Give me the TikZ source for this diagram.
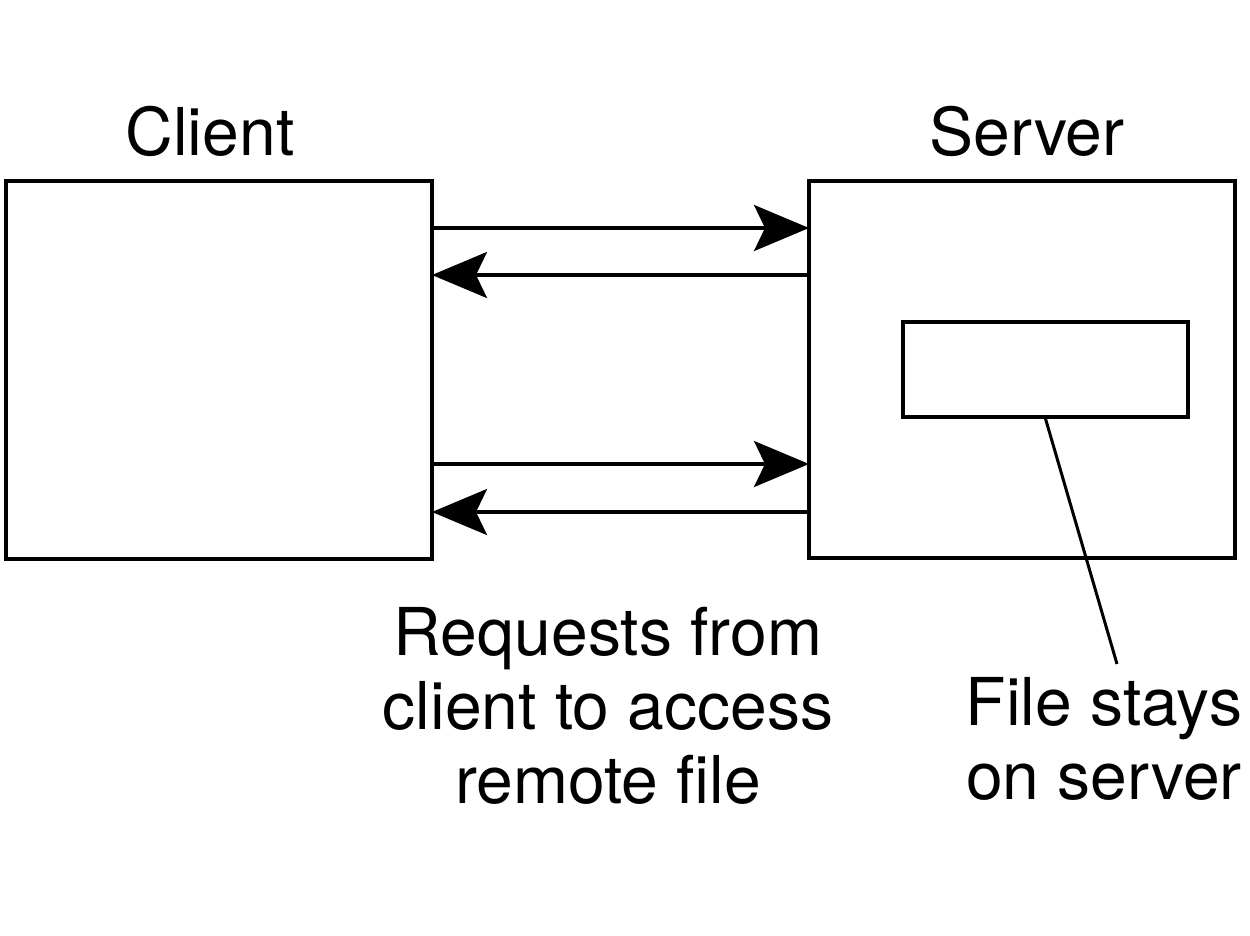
\documentclass[tikz,border=0pt]{standalone}
\usepackage{fontspec}
\setmainfont{TeX Gyre Heros}
\usetikzlibrary{arrows.meta}
\begin{document}
\begin{tikzpicture}[x=1pt,y=-1pt,
  box/.style={draw,line width=3.5pt,minimum width=#1,outer sep=0pt,inner sep=0pt},
  lbl/.style={font=\fontsize{66}{74}\selectfont,inner sep=0pt,align=center},
  msg/.style={line width=3.5pt,-{Stealth[length=55pt,width=46pt,inset=11pt]}},
  lead/.style={line width=3pt}]
\useasboundingbox (0,0) rectangle (1250,935);
\node[box=426pt,minimum height=378pt] (client) at (219,370) {};
\node[box=426pt,minimum height=377pt] (server) at (1022,369.5) {};
\node[box=285pt,minimum height=95pt] (file) at (1045.5,369.5) {};
\node[lbl,anchor=base] (clientlbl) at (210,155) {Client};
\node[lbl,anchor=base] (serverlbl) at (1027,155) {Server};
\node[lbl,anchor=north] (req) at (608,607) {Requests from\\client to access\\remote file};
\node[lbl,anchor=north] (stay) at (1104,677) {File stays\\on server};
\coordinate (leadend) at (1117,664);
\draw[msg] (client.east |- 0,228) -- (server.west |- 0,228);
\draw[msg] (server.west |- 0,275) -- (client.east |- 0,275);
\draw[msg] (client.east |- 0,464) -- (server.west |- 0,464);
\draw[msg] (server.west |- 0,512) -- (client.east |- 0,512);
\draw[lead] (file.south -| 1045,0) -- (leadend);
\end{tikzpicture}
\end{document}
